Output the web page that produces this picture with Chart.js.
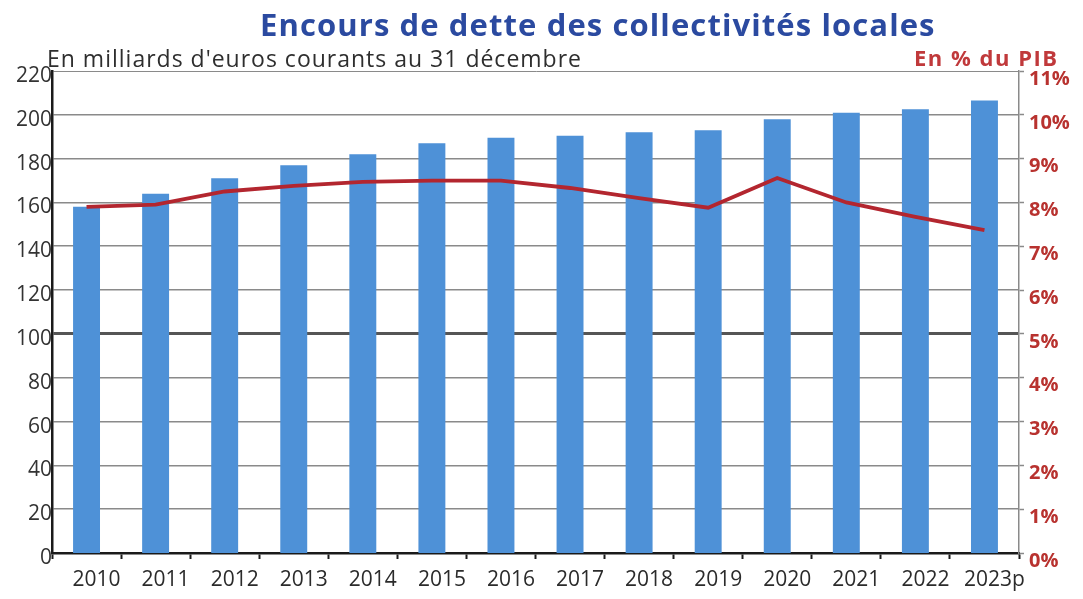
<!DOCTYPE html>
<html>
<head>
<meta charset="utf-8">
<script src="https://cdn.jsdelivr.net/npm/chart.js@4/dist/chart.umd.min.js"></script>
<style>
  html, body { margin: 0; padding: 0; background: #ffffff; }
  #wrap { width: 1083px; height: 599px; position: relative; }
</style>
</head>
<body>
<div id="wrap"><canvas id="chart" width="1083" height="599"></canvas></div>
<script>
    'use strict';

    // Données
    const annees = ['2010', '2011', '2012', '2013', '2014', '2015', '2016', '2017', '2018', '2019', '2020', '2021', '2022', '2023p'];
    const encours = [158, 164, 171, 177, 182, 187, 189.5, 190.5, 192, 193, 198, 201, 202.5, 206.5];
    const pctPib = [7.9, 7.95, 8.25, 8.38, 8.47, 8.5, 8.5, 8.33, 8.1, 7.88, 8.56, 8.0, 7.67, 7.37];
    const ticksGauche = [0, 20, 40, 60, 80, 100, 120, 140, 160, 180, 200, 220];
    const ticksDroite = [0, 1, 2, 3, 4, 5, 6, 7, 8, 9, 10, 11];

    const police = '"Open Sans", "Noto Sans", sans-serif';

    // Titres dessinés à la main au-dessus de la zone du graphique
    const titres = {
        id: 'titres',
        afterDraw: function (chart) {
            const c = chart.ctx;
            c.save();
            c.textBaseline = 'alphabetic';
            c.textAlign = 'left';
            c.fillStyle = '#2b4aa0';
            c.font = 'bold 31px ' + police;
            c.letterSpacing = '1.1px';
            c.fillText('Encours de dette des collectivités locales', 260, 36);
            c.fillStyle = '#2e2e2e';
            c.font = '23px ' + police;
            c.letterSpacing = '1px';
            c.fillText('En milliards d\'euros courants au 31 décembre', 47, 67);
            c.fillStyle = '#c0393b';
            c.font = 'bold 22px ' + police;
            c.letterSpacing = '1.5px';
            c.fillText('En % du PIB', 914, 66);
            c.restore();
        }
    };

    const ctx = document.getElementById('chart');

    new Chart(ctx, {
        data: {
            labels: annees,
            datasets: [{
                type: 'line',
                label: 'En % du PIB',
                data: pctPib,
                yAxisID: 'y2',
                borderColor: '#b3262f',
                borderWidth: 3.8,
                pointRadius: 0,
                tension: 0,
                order: 0
            }, {
                type: 'bar',
                label: 'Encours',
                data: encours,
                yAxisID: 'y',
                backgroundColor: '#4e91d7',
                barPercentage: 0.39,
                categoryPercentage: 1,
                order: 1
            }]
        },
        plugins: [titres],
        options: {
            responsive: false,
            animation: false,
            layout: { padding: { top: 71, left: 0, right: 0, bottom: 0 } },
            plugins: {
                legend: { display: false },
                tooltip: { enabled: false }
            },
            scales: {
                x: {
                    offset: true,
                    afterFit: function (s) { s.height = 46; },
                    grid: {
                        offset: true,
                        drawOnChartArea: false,
                        drawTicks: true,
                        tickLength: 6,
                        tickColor: '#1a1a1a',
                        tickWidth: 2
                    },
                    border: { display: true, color: '#1a1a1a', width: 2.5 },
                    ticks: {
                        color: '#2b2b2b',
                        font: { family: police, size: 21 },
                        padding: 8,
                        labelOffset: 10,
                        maxRotation: 0,
                        autoSkip: false
                    }
                },
                y: {
                    position: 'left',
                    min: 0,
                    max: 220,
                    afterFit: function (s) { s.width = 52; },
                    afterBuildTicks: function (s) {
                        s.ticks = ticksGauche.map(function (v) { return { value: v }; });
                    },
                    grid: {
                        drawTicks: false,
                        color: function (c) {
                            if (c.tick && c.tick.value === 100) return '#555555';
                            return '#8a8a8a';
                        },
                        lineWidth: function (c) {
                            if (!c.tick) return 1;
                            if (c.tick.value === 0) return 0;
                            if (c.tick.value === 100) return 3;
                            if (c.tick.value === 220) return 1;
                            return 1.6;
                        }
                    },
                    border: { display: true, color: '#1a1a1a', width: 2.5 },
                    ticks: {
                        color: '#333333',
                        font: { family: police, size: 21 },
                        padding: 0,
                        labelOffset: 5
                    }
                },
                y2: {
                    position: 'right',
                    min: 0,
                    max: 11,
                    afterFit: function (s) { s.width = 64; },
                    afterBuildTicks: function (s) {
                        s.ticks = ticksDroite.map(function (v) { return { value: v }; });
                    },
                    grid: {
                        drawOnChartArea: false,
                        drawTicks: true,
                        tickLength: 5,
                        tickColor: '#8a8a8a',
                        tickWidth: 1.5
                    },
                    border: { display: true, color: '#8a8a8a', width: 1.5 },
                    ticks: {
                        color: '#b8322f',
                        font: { family: police, size: 20, weight: 'bold' },
                        padding: 5,
                        labelOffset: 8,
                        callback: function (v) { return v + '%'; }
                    }
                }
            }
        }
    });
</script>
</body>
</html>
